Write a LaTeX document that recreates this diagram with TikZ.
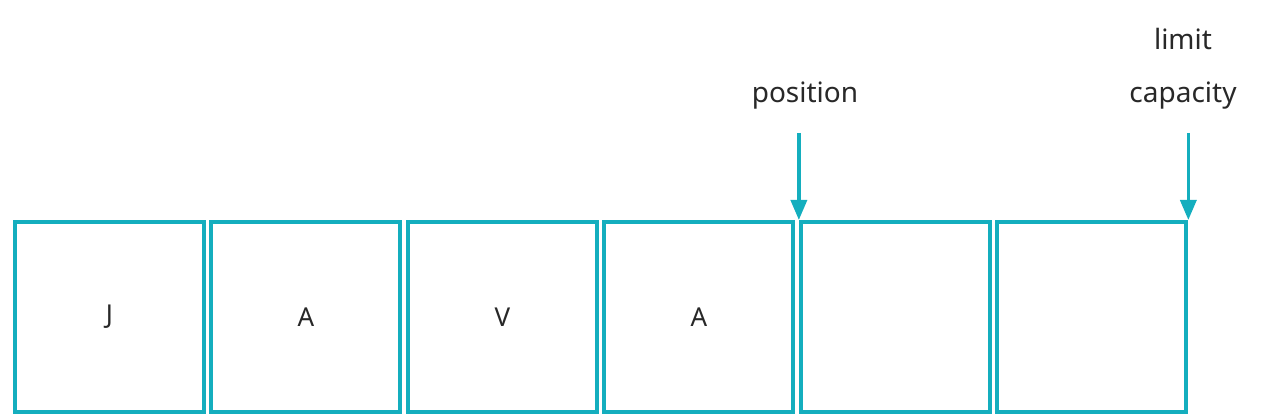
\documentclass[tikz,border=0pt]{standalone}
\usepackage{fontspec}
\setmainfont{Noto Sans}
\usetikzlibrary{positioning,arrows.meta}

\definecolor{bufcyan}{RGB}{20,174,190}
\definecolor{txtgray}{RGB}{40,40,40}

\begin{document}
\begin{tikzpicture}
  [x=0.75pt,y=-0.75pt,node distance=2.6pt,
   cell/.style={draw=bufcyan,line width=3pt,minimum width=141.75pt,minimum height=142.5pt,
     inner sep=0pt,font=\fontsize{19.5}{22}\selectfont,text=txtgray},
   lbl/.style={inner sep=0pt,anchor=base,font=\fontsize{21}{25}\selectfont,text=txtgray},
   ptr/.style={draw=bufcyan,line width=2.6pt,-{Triangle[width=12pt,length=15pt]}}]
  \useasboundingbox (0,0) rectangle (1264,420);
  \node[cell] (b1) at (109.5,317) {J};
  \node[cell,right=of b1] (b2) {A};
  \node[cell,right=of b2] (b3) {V};
  \node[cell,right=of b3] (b4) {A};
  \node[cell,right=of b4] (b5) {};
  \node[cell,right=of b5] (b6) {};
  % labels over the pointers
  \node[lbl] (pos) at (805,103) {position};
  \node[lbl] (lim) at (1183,50) {limit};
  \node[lbl] (cap) at (1183,103) {capacity};
  \coordinate (ptop) at (b5.north west |- 0,133);
  \coordinate (ltop) at (b6.north east |- 0,133);
  \draw[ptr] (ptop) -- (b5.north west);
  \draw[ptr] (ltop) -- (b6.north east);
\end{tikzpicture}
\end{document}
